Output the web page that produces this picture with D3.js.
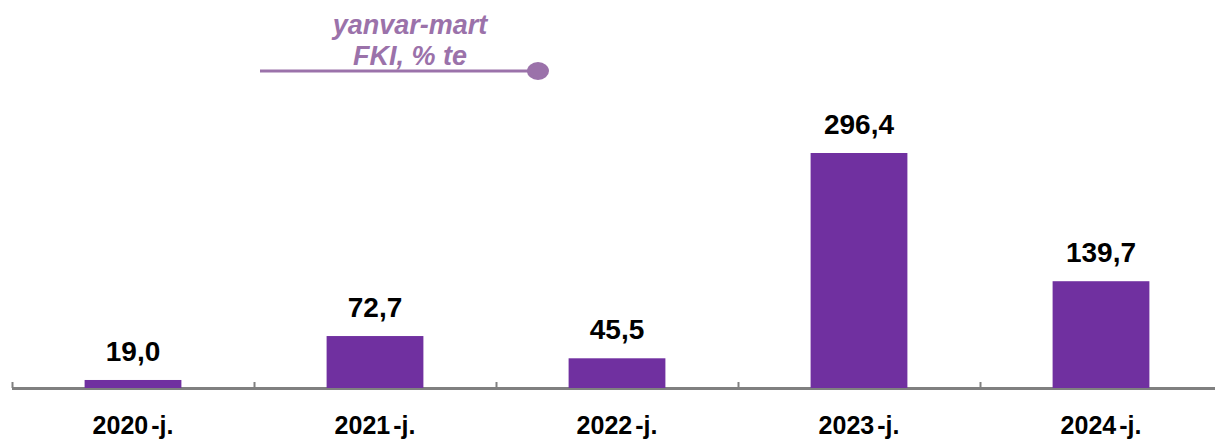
<!DOCTYPE html>
<html>
<head>
<meta charset="utf-8">
<script src="https://cdn.jsdelivr.net/npm/d3@7"></script>
<style>
  body { margin: 0; background: white; }
  text { font-family: Arial, "Liberation Sans", sans-serif; }
</style>
</head>
<body>
<div id="main_content"></div>
<script>
var width = 1215, height = 439;

var years = ['2020', '2021', '2022', '2023', '2024'];
var suffix = '-j.';
var values = [19.0, 72.7, 45.5, 296.4, 139.7];
var legendLines = ['yanvar-mart', 'FKI, % te'];

var barColor = '#7030a0';
var legendColor = '#9b72aa';

var svg = d3.select('#main_content').append('svg')
  .attr('width', width)
  .attr('height', height)
  .style('background', 'white');

var x = d3.scaleBand()
  .domain(years)
  .range([12, 1222])
  .paddingInner(0.6)
  .paddingOuter(0.3);

// baseline of the original sits a bit above zero
var y = d3.scaleLinear()
  .domain([9.2, 296.4])
  .range([388, 153]);

// axis line + ticks between categories
svg.append('line')
  .attr('x1', 12).attr('x2', width)
  .attr('y1', 388.5).attr('y2', 388.5)
  .attr('stroke', '#808080')
  .attr('stroke-width', 3);

var step = x.step();
svg.selectAll('.tick')
  .data(d3.range(years.length))
  .enter().append('line')
  .attr('x1', function(d) { return 12.5 + d * step; })
  .attr('x2', function(d) { return 12.5 + d * step; })
  .attr('y1', 382).attr('y2', 388)
  .attr('stroke', '#808080')
  .attr('stroke-width', 2);

svg.selectAll('rect.bar')
  .data(values)
  .enter().append('rect')
  .attr('class', 'bar')
  .attr('x', function(d, i) { return x(years[i]); })
  .attr('width', x.bandwidth())
  .attr('y', function(d) { return y(d); })
  .attr('height', function(d) { return 388 - y(d); })
  .attr('fill', barColor);

svg.selectAll('text.val')
  .data(values)
  .enter().append('text')
  .attr('class', 'val')
  .attr('x', function(d, i) { return x(years[i]) + x.bandwidth() / 2; })
  .attr('y', function(d) { return y(d) - 19; })
  .attr('text-anchor', 'middle')
  .attr('font-size', 28)
  .attr('font-weight', 'bold')
  .attr('fill', '#000')
  .text(function(d) { return d.toFixed(1).replace('.', ','); });

var cat = svg.selectAll('text.cat')
  .data(years)
  .enter().append('text')
  .attr('class', 'cat')
  .attr('x', function(d) { return x(d) + x.bandwidth() / 2; })
  .attr('y', 434)
  .attr('text-anchor', 'middle')
  .attr('font-size', 25)
  .attr('font-weight', 'bold')
  .attr('fill', '#000');
cat.append('tspan').text(function(d) { return d; });
cat.append('tspan').attr('dx', 3).text(suffix);

// legend
var legend = svg.append('g');
legend.selectAll('text')
  .data(legendLines)
  .enter().append('text')
  .attr('x', 410)
  .attr('y', function(d, i) { return 34 + i * 31; })
  .attr('text-anchor', 'middle')
  .attr('font-size', 27)
  .attr('font-weight', 'bold')
  .attr('font-style', 'italic')
  .attr('fill', legendColor)
  .text(function(d) { return d; });

legend.append('line')
  .attr('x1', 260).attr('x2', 535)
  .attr('y1', 71).attr('y2', 71)
  .attr('stroke', legendColor)
  .attr('stroke-width', 3);

legend.append('ellipse')
  .attr('cx', 538).attr('cy', 71)
  .attr('rx', 11).attr('ry', 9)
  .attr('fill', legendColor);
</script>
</body>
</html>
